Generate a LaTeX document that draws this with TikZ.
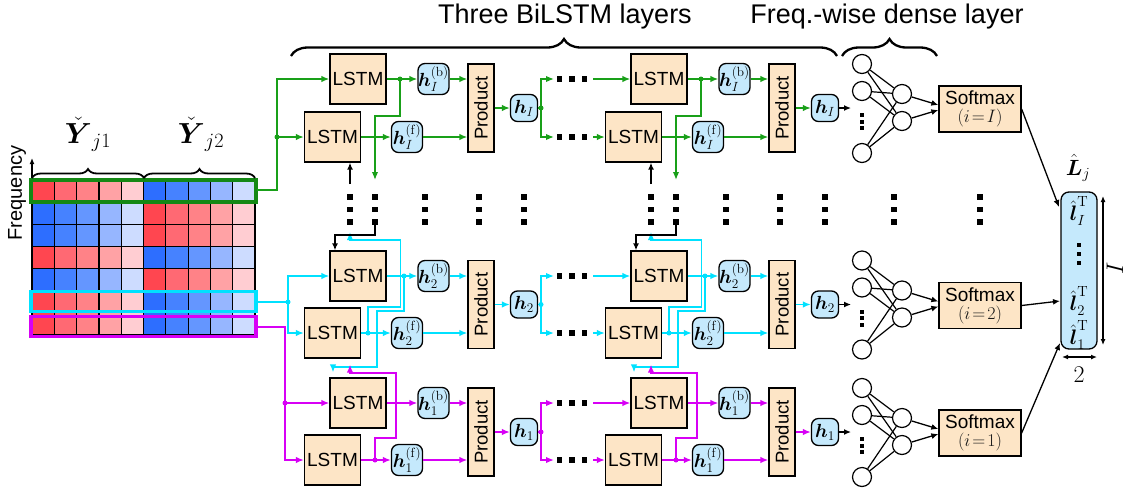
\RequirePackage{fix-cm}
\documentclass[tikz,border=0pt]{standalone}
\usepackage{amsmath}
\usepackage{graphicx}
\usepackage[no-math]{fontspec}
\setmainfont{Liberation Sans}
\usetikzlibrary{arrows.meta,decorations.pathreplacing,calc}
\newcommand{\myfs}[1]{\fontsize{#1}{#1}\selectfont}
\definecolor{lstmfill}{RGB}{253,229,198}
\definecolor{hfill}{RGB}{197,233,252}
\definecolor{gr}{RGB}{25,160,25}
\definecolor{cy}{RGB}{0,225,255}
\definecolor{mg}{RGB}{215,0,245}
\definecolor{R1}{RGB}{255,70,80}
\definecolor{R2}{RGB}{255,105,115}
\definecolor{R3}{RGB}{255,130,135}
\definecolor{R4}{RGB}{255,162,165}
\definecolor{R5}{RGB}{255,205,210}
\definecolor{B1}{RGB}{45,110,255}
\definecolor{B2}{RGB}{70,130,255}
\definecolor{B3}{RGB}{100,150,255}
\definecolor{B4}{RGB}{150,182,255}
\definecolor{B5}{RGB}{205,220,255}
\tikzset{
 lstm/.style={draw, line width=1.3pt, fill=lstmfill, minimum width=56pt, minimum height=50pt, inner sep=0pt, font=\myfs{19}},
 hb/.style={draw, line width=1.3pt, fill=hfill, rounded corners=7pt, minimum width=31pt, minimum height=31pt, inner sep=0pt, font=\myfs{19}},
 hs/.style={hb, minimum width=27pt, minimum height=27pt},
 prod/.style={draw, line width=1.3pt, fill=lstmfill, minimum width=26pt, minimum height=88pt, inner sep=0pt, font=\myfs{18.5}},
 smx/.style={draw, line width=1.3pt, fill=lstmfill, minimum width=82pt, minimum height=46pt, inner sep=0pt, align=center, font=\myfs{19}},
 neuron/.style={circle, draw, line width=1.2pt, minimum size=19pt, inner sep=0pt},
 arr/.style={-{Latex[length=8pt,width=6.5pt]}, line width=1.5pt},
 arrk/.style={-{Latex[length=7pt,width=6pt]}, line width=1.3pt, black},
 jdot/.style={circle, fill, inner sep=0pt, minimum size=5pt},
 brc/.style={decorate, line width=2.3pt},
 lbl/.style={inner sep=0pt, font=\myfs{21}},
}
\begin{document}
\begin{tikzpicture}[x=1pt,y=-1pt]
\useasboundingbox (0,0) rectangle (1127,491);

% ---------- matrix ----------
\foreach \rn/\t/\o in {0/R/B,1/B/R,2/B/R,3/R/B,4/B/R,5/R/B,6/R/B}{
 \foreach \j in {1,...,5}{
  \fill[\t\j] ({32+(\j-1)*22.3},{180+\rn*22.14}) rectangle ++(22.3,22.14);
  \fill[\o\j] ({32+(\j+4)*22.3},{180+\rn*22.14}) rectangle ++(22.3,22.14);
 }
}
\foreach \k in {0,...,10} \draw[line width=1.2pt] ({32+\k*22.3},180) -- ({32+\k*22.3},335);
\foreach \k in {0,...,7} \draw[line width=1.2pt] (32,{180+\k*22.14}) -- (255,{180+\k*22.14});

\coordinate (fa) at (32,180);
\coordinate (fb) at (32,158);
\draw[-{Latex[length=6pt,width=5pt]}, line width=1.2pt] (fa) -- (fb);
\node[rotate=90, font=\myfs{20}] (freq) at (17,193) {Frequency};

\draw[gr!85!black, line width=4pt] (31,180) rectangle (256,201.5);
\draw[cy, line width=3.5pt] (31,291.7) rectangle (256,311.3);
\draw[mg, line width=3.5pt] (31,316.7) rectangle (256,336.3);

\draw[brc, decoration={brace,amplitude=9pt}, line width=1.8pt] (32,178) -- (144,178);
\draw[brc, decoration={brace,amplitude=9pt}, line width=1.8pt] (144,178) -- (255,178);
\node[font=\myfs{29}, anchor=base] (y1) at (88,143) {$\check{\boldsymbol{Y}}_{j1}$};
\node[font=\myfs{29}, anchor=base] (y2) at (201,143) {$\check{\boldsymbol{Y}}_{j2}$};

% ---------- top braces ----------
\draw[brc, decoration={brace,amplitude=17pt}] (291,56) -- (837,56);
\draw[brc, decoration={brace,amplitude=17pt}] (842,56) -- (937,56);
\node[font=\myfs{27}] (t1) at (565,17) {Three BiLSTM layers};
\node[font=\myfs{27}] (t2) at (887,17) {Freq.-wise dense layer};

% ---------- BiLSTM blocks ----------
\foreach \cn/\dx in {1/0,2/301}{
 \foreach \rn/\yb/\yf/\yc/\lab/\col in {T/79/137/108/I/gr, M/276/333/304.5/2/cy, B/403/460/432/1/mg}{
  \node[lstm] (lb\rn\cn) at ({358+\dx},\yb) {LSTM};
  \node[lstm] (lf\rn\cn) at ({332.5+\dx},\yf) {LSTM};
  \node[hb] (hb\rn\cn) at ({433.5+\dx},\yb) {$\boldsymbol{h}_{\lab}^{(\mathrm{b})}$};
  \node[hb] (hf\rn\cn) at ({407+\dx},\yf) {$\boldsymbol{h}_{\lab}^{(\mathrm{f})}$};
  \node[prod] (p\rn\cn) at ({481+\dx},\yc) {\rotatebox{90}{Product}};
  \node[hs] (h\rn\cn) at ({524+\dx},\yc) {$\boldsymbol{h}_{\lab}$};
  \draw[arr,\col] (lb\rn\cn) -- (hb\rn\cn);
  \draw[arr,\col] (lf\rn\cn) -- (hf\rn\cn);
  \draw[arr,\col] (hb\rn\cn) -- (hb\rn\cn -| p\rn\cn.west);
  \draw[arr,\col] (hf\rn\cn) -- (hf\rn\cn -| p\rn\cn.west);
  \draw[arr,\col] (p\rn\cn) -- (h\rn\cn);
 }
 % top layer (green)
 \draw[arr,gr] ({400+\dx},79) -- ({400+\dx},116) -- ({375+\dx},116) -- ({375+\dx},180);
 \node[jdot,gr] (dT\cn) at ({400+\dx},79) {};
 \coordinate (kT\cn) at ({350+\dx},184);
 \draw[arrk, line width=1.5pt] (kT\cn) -- ([xshift=17.5pt]lfT\cn.south);
 % middle layer (cyan)
 \draw[arr,cy] ({368+\dx},333) -- ({368+\dx},307) -- ({400.5+\dx},307) -- ({400.5+\dx},240) -- ({350+\dx},240) -- ({350+\dx},232);
 \draw[arr,cy] ({404+\dx},276) -- ({404+\dx},311) -- ({377+\dx},311) -- ({377+\dx},367) -- ({333+\dx},367) -- ([shift={(-25pt,5pt)}]lbB\cn.north);
 \node[jdot,cy] (dMb\cn) at ({404+\dx},276) {};
 \node[jdot,cy] (dMf\cn) at ({368+\dx},333) {};
 \coordinate (kM\cn) at ({375+\dx},225);
 \draw[arrk, line width=1.5pt] (kM\cn) -- ({375+\dx},235) -- ({335+\dx},235) -- ([xshift=-23pt]lbM\cn.north);
 % bottom layer (magenta)
 \draw[arr,mg] ({375+\dx},460) -- ({375+\dx},438) -- ({396+\dx},438) -- ({396+\dx},373) -- ({350+\dx},373) -- ([shift={(17.5pt,-6pt)}]lfM\cn.south);
 \node[jdot,mg] (dBf\cn) at ({375+\dx},460) {};
}

% ---------- between columns ----------
\foreach \rn/\yb/\yf/\yc/\col in {T/79/137/108/gr, M/276/333/304.5/cy, B/403/460/432/mg}{
 \node[jdot,\col] (br\rn) at (541,\yc) {};
 \draw[line width=1.5pt,\col] (h\rn1) -- (br\rn.center);
 \coordinate (eb\rn) at (554,\yb);
 \coordinate (ef\rn) at (554,\yf);
 \draw[arr,\col] (br\rn.center) |- (eb\rn);
 \draw[arr,\col] (br\rn.center) |- (ef\rn);
 \coordinate (sb\rn) at (593,\yb);
 \coordinate (sf\rn) at (593,\yf);
 \draw[arr,\col] (sb\rn) -- (lb\rn2);
 \draw[arr,\col] (sf\rn) -- (lf\rn2);
 \foreach \x in {559.5,572,584.5}{
  \fill ({\x-2.75},{\yb-2.75}) rectangle ++(5.5,5.5);
  \fill ({\x-2.75},{\yf-2.75}) rectangle ++(5.5,5.5);
 }
 \coordinate (nin\rn) at (851,\yc);
 \draw[arrk] (h\rn2) -- (nin\rn);
}

% vertical dots
\foreach \x in {350,375,425,479,524,651,676,726,780,825,894,980}{
 \foreach \y in {197,209.5,222}{
  \fill ({\x-2.6},{\y-2.6}) rectangle ++(5.2,5.2);
 }
}

% ---------- inputs from matrix ----------
\coordinate (mG) at (257,190);
\draw[arr,gr] (mG) -- (277,190) -- (277,79) -- (lbT1.west);
\node[jdot,gr] (jG) at (277,137) {};
\draw[arr,gr] (jG.center) -- (lfT1.west);

\coordinate (mC) at (257,302);
\node[jdot,cy] (jC) at (288,302) {};
\draw[line width=1.5pt,cy] (mC) -- (jC.center);
\draw[arr,cy] (jC.center) -- (288,276) -- (lbM1.west);
\draw[arr,cy] (jC.center) -- (288,333) -- (lfM1.west);

\coordinate (mM) at (257,327);
\draw[arr,mg] (mM) -- (285,327) -- (285,460) -- (lfB1.west);
\node[jdot,mg] (jM) at (285,403) {};
\draw[arr,mg] (jM.center) -- (lbB1.west);

% ---------- dense layers ----------
\foreach \rn/\c/\lab in {T/108/I, M/304.5/2, B/432/1}{
 \node[neuron] (n\rn1) at (862,{\c-44}) {};
 \node[neuron] (n\rn2) at (862,{\c-17}) {};
 \node[neuron] (n\rn3) at (862,{\c+45}) {};
 \node[neuron] (m\rn1) at (902,{\c-14}) {};
 \node[neuron] (m\rn2) at (902,{\c+13}) {};
 \foreach \i in {1,2,3}{\foreach \j in {1,2}{\draw[line width=1.2pt] (n\rn\i) -- (m\rn\j);}}
 \foreach \k in {7,13.5,20}{\fill (860,{\c+\k-2}) rectangle ++(4,4);}
 \node[smx] (sm\rn) at (980,{\c+1}) {Softmax\\[-1pt]{\myfs{18}\color{black!90}$(i\!=\!\lab)$}};
 \draw[arrk] (m\rn1) -- ([yshift=4pt]sm\rn.west);
 \draw[arrk] (m\rn2) -- ([yshift=-1pt]sm\rn.west);
}

% ---------- output matrix ----------
\node[draw, line width=1.3pt, fill=hfill, rounded corners=8pt, minimum width=36pt, minimum height=157pt, inner sep=0pt] (L) at (1079,270.5) {};
\node[lbl, font=\myfs{22}, anchor=base] (Lj) at (1078,175) {$\hat{\boldsymbol{L}}_j$};
\node[lbl] (lI) at (1079,211) {$\hat{\boldsymbol{l}}_I^{\mathrm{T}}$};
\foreach \y in {245,254,263}{\fill (1077,{\y-2}) rectangle ++(4,4);}
\node[lbl] (l2) at (1079,301) {$\hat{\boldsymbol{l}}_2^{\mathrm{T}}$};
\node[lbl] (l1) at (1079,335) {$\hat{\boldsymbol{l}}_1^{\mathrm{T}}$};

\coordinate (LaT) at (1059,207);
\coordinate (LaM) at (1060,301);
\coordinate (LaB) at (1060,343);
\draw[arrk] (smT.east) -- (LaT);
\draw[arrk] (smM.east) -- (LaM);
\draw[arrk] (smB.east) -- (LaB);

\coordinate (dv1) at (1103,196);
\coordinate (dv2) at (1103,345);
\draw[{Latex[length=6pt,width=5pt]}-{Latex[length=6pt,width=5pt]}, line width=1.2pt] (dv1) -- (dv2);
\node[rotate=90, inner sep=0pt, font=\myfs{24}] (Ilab) at (1115,268) {$I$};
\coordinate (dh1) at (1062,357);
\coordinate (dh2) at (1097,357);
\draw[{Latex[length=6pt,width=5pt]}-{Latex[length=6pt,width=5pt]}, line width=1.2pt] (dh1) -- (dh2);
\node[font=\myfs{24}, inner sep=0pt] (two) at (1079,375) {$2$};
\end{tikzpicture}
\end{document}
